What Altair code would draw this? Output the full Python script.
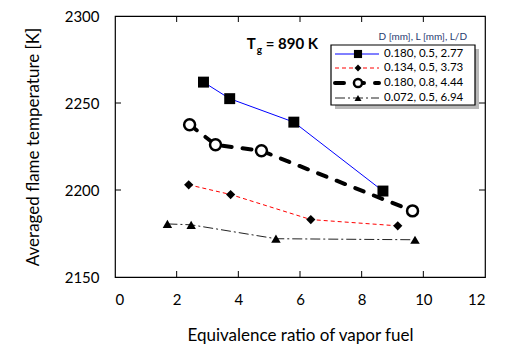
import altair as alt
import pandas as pd

# ---- data ----
labels = ["0.180, 0.5, 2.77", "0.134, 0.5, 3.73", "0.180, 0.8, 4.44", "0.072, 0.5, 6.94"]
phi_a = [2.87, 3.72, 5.80, 8.69]
T_a = [2262.0, 2252.5, 2239.0, 2199.4]
phi_b = [2.39, 3.75, 6.35, 9.17]
T_b = [2203.0, 2197.4, 2183.0, 2179.4]
phi_c = [2.42, 3.26, 4.75, 9.65]
T_c = [2237.5, 2226.0, 2222.5, 2188.0]
phi_d = [1.70, 2.47, 5.22, 9.73]
T_d = [2180.5, 2180.0, 2172.0, 2171.4]
x_ticks = [0, 2, 4, 6, 8, 10, 12]
y_ticks = [2150, 2200, 2250, 2300]
x_inner_ticks = [2, 4, 6, 8, 10]
y_inner_ticks = [2200, 2250]

W, H = 370, 261
FONT = "Lato"

xs = alt.Scale(domain=[0, 12], nice=False, zero=False)
ys = alt.Scale(domain=[2150, 2300], nice=False, zero=False)

styles = [
    dict(line=dict(color="#0000FF", strokeWidth=1),
         pt=dict(shape="square", size=120, filled=True, color="black")),
    dict(line=dict(color="#FF0000", strokeWidth=1, strokeDash=[4, 3]),
         pt=dict(shape="diamond", size=85, filled=True, color="black")),
    dict(line=dict(color="black", strokeWidth=4, strokeDash=[9, 11], strokeCap="round"),
         pt=dict(shape="circle", size=120, filled=True, fill="white", stroke="black", strokeWidth=2.5)),
    dict(line=dict(color="#222222", strokeWidth=1, strokeDash=[10, 3, 2, 3]),
         pt=dict(shape="triangle-up", size=90, filled=True, color="black")),
]
series = [(phi_a, T_a), (phi_b, T_b), (phi_c, T_c), (phi_d, T_d)]

layers = []
for i, ((px, py), st) in enumerate(zip(series, styles)):
    df = pd.DataFrame({"phi": px, "T": py, "label": labels[i]})
    enc = dict(x=alt.X("phi:Q", scale=xs,
                       axis=alt.Axis(values=x_ticks, title="Equivalence ratio of vapor fuel",
                                     ticks=False, domain=False, grid=False, labelPadding=15,
                                     labelFontSize=15, titleFontSize=17, titlePadding=20,
                                     labelFont=FONT, titleFont=FONT, labelColor="black",
                                     titleColor="black", titleFontWeight="normal")),
               y=alt.Y("T:Q", scale=ys,
                       axis=alt.Axis(values=y_ticks, title="Averaged flame temperature [K]",
                                     format="d",
                                     ticks=False, domain=False, grid=False, labelPadding=16,
                                     labelFontSize=15, titleFontSize=17, titlePadding=22,
                                     labelFont=FONT, titleFont=FONT, labelColor="black",
                                     titleColor="black", titleFontWeight="normal")))
    layers.append(alt.Chart(df).mark_line(**st["line"]).encode(**enc))
    layers.append(alt.Chart(df).mark_point(opacity=1, **st["pt"]).encode(x=alt.X("phi:Q", scale=xs),
                                                                          y=alt.Y("T:Q", scale=ys)))

# inward ticks on all four sides
xt = pd.DataFrame({"v": x_inner_ticks})
yt = pd.DataFrame({"v": y_inner_ticks})
layers.append(alt.Chart(xt).mark_rule(color="black").encode(
    x=alt.X("v:Q", scale=xs), y=alt.value(H), y2=alt.value(H - 6)))
layers.append(alt.Chart(xt).mark_rule(color="black").encode(
    x=alt.X("v:Q", scale=xs), y=alt.value(0), y2=alt.value(6)))
layers.append(alt.Chart(yt).mark_rule(color="black").encode(
    y=alt.Y("v:Q", scale=ys), x=alt.value(0), x2=alt.value(6)))
layers.append(alt.Chart(yt).mark_rule(color="black").encode(
    y=alt.Y("v:Q", scale=ys), x=alt.value(W), x2=alt.value(W - 6)))

# annotation T_g = 890 K
ann = pd.DataFrame({"phi": [4.27], "T": [2281.0]})
layers.append(alt.Chart(ann).mark_text(text="T", font=FONT, fontSize=15, fontWeight="bold",
                                       align="left", baseline="alphabetic", color="black").encode(
    x=alt.X("phi:Q", scale=xs), y=alt.Y("T:Q", scale=ys)))
layers.append(alt.Chart(ann).mark_text(text="g", font=FONT, fontSize=10, fontWeight="bold",
                                       align="left", baseline="alphabetic", color="black",
                                       dx=10, dy=4).encode(
    x=alt.X("phi:Q", scale=xs), y=alt.Y("T:Q", scale=ys)))
layers.append(alt.Chart(ann).mark_text(text="= 890 K", font=FONT, fontSize=15, fontWeight="bold",
                                       align="left", baseline="alphabetic", color="black",
                                       dx=19).encode(
    x=alt.X("phi:Q", scale=xs), y=alt.Y("T:Q", scale=ys)))

# manual legend (pixel layout inside the plot area)
box_df = pd.DataFrame({"label": ["legend"]})
LX0, LX1, LY0, LY1 = 216, 360, 29, 89
layers.append(alt.Chart(box_df).mark_rect(color="#9a9a9a", opacity=0.7).encode(
    x=alt.value(LX0 + 4), x2=alt.value(LX1 + 4), y=alt.value(LY0 + 4), y2=alt.value(LY1 + 4)))
layers.append(alt.Chart(box_df).mark_rect(fill="white", stroke="black", strokeWidth=1.2).encode(
    x=alt.value(LX0), x2=alt.value(LX1), y=alt.value(LY0), y2=alt.value(LY1)))
layers.append(alt.Chart(box_df).mark_text(text="D [mm], L [mm], L/D", font=FONT, fontSize=10,
                                          align="right", baseline="middle", color="#1F3A70").encode(
    x=alt.value(352), y=alt.value(21)))
row_y = [38, 52, 67, 82]
for i, st in enumerate(styles):
    d = pd.DataFrame({"label": [labels[i]]})
    line_style = dict(st["line"])
    layers.append(alt.Chart(d).mark_rule(**line_style).encode(
        x=alt.value(220), x2=alt.value(264), y=alt.value(row_y[i])))
    pt = dict(st["pt"])
    pt["size"] = pt["size"] * 0.55
    layers.append(alt.Chart(d).mark_point(opacity=1, **pt).encode(
        x=alt.value(243), y=alt.value(row_y[i])))
    layers.append(alt.Chart(d).mark_text(font=FONT, fontSize=11.5, align="left", baseline="middle",
                                         color="black").encode(
        text="label:N", x=alt.value(269), y=alt.value(row_y[i])))

chart = alt.layer(*layers).properties(
    width=W, height=H,
    autosize=alt.AutoSizeParams(type="none"),
    padding={"left": 115, "top": 16, "right": 36, "bottom": 72},
    background="white",
).configure_view(stroke="black", strokeWidth=1.2)

chart.save("out.html", embed_options={"renderer": "svg", "actions": False})
